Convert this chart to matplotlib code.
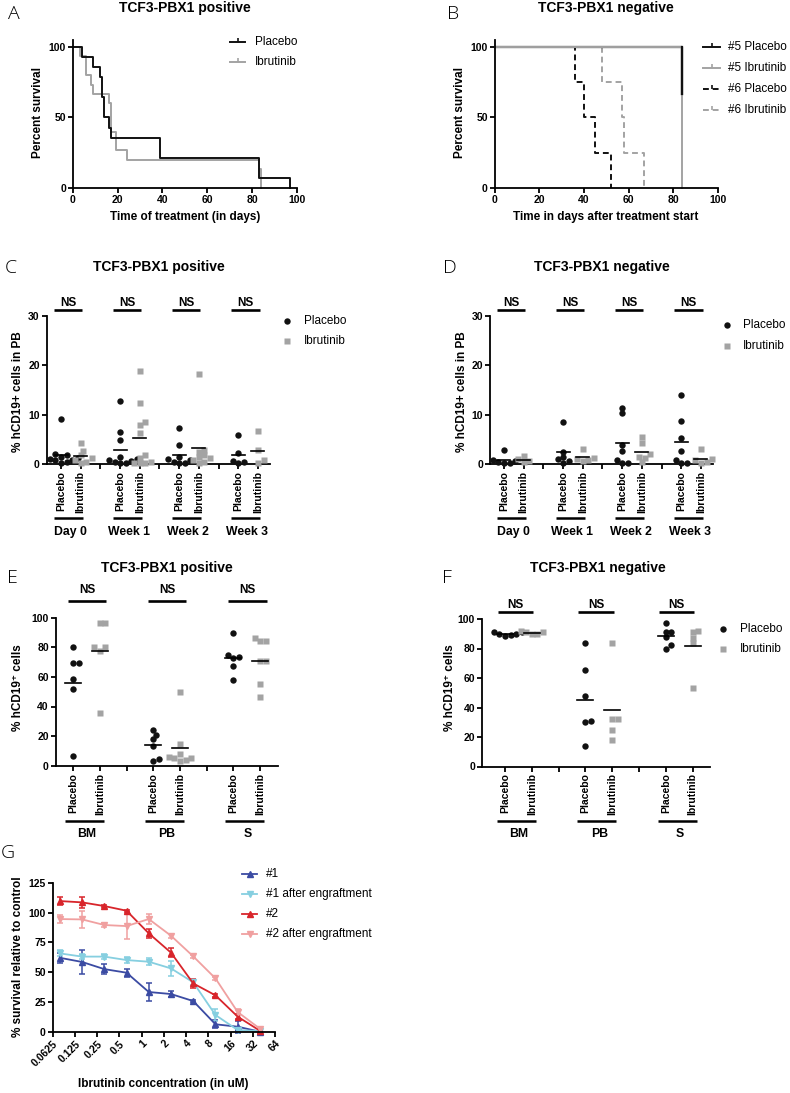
import numpy as np
import matplotlib
matplotlib.use('Agg')
import matplotlib.pyplot as plt
from matplotlib.lines import Line2D
from matplotlib.transforms import blended_transform_factory

plt.rcParams['font.family'] = ['Liberation Sans', 'DejaVu Sans']
plt.rcParams['font.weight'] = 'bold'

#%%============================================================================
# Data
#==============================================================================
# A - survival, TCF3-PBX1 positive
a_plac_t = [0, 4, 9, 12, 13, 14, 16, 17, 39, 83, 97]
a_plac_s = [100, 92.9, 85.7, 78.6, 64.3, 50.0, 42.9, 35.7, 21.4, 7.1, 0]
a_ibr_t = [0, 3, 6, 8, 9, 16, 17, 19, 24, 83, 84]
a_ibr_s = [100, 93.3, 80.0, 73.3, 66.7, 60.0, 40.0, 26.7, 20.0, 13.3, 0]

# B - survival, TCF3-PBX1 negative
b5_plac_t = [0, 84]
b5_plac_s = [100, 66.7]
b5_ibr_t = [0, 84]
b5_ibr_s = [100, 0]
b6_plac_t = [0, 36, 40, 45, 52]
b6_plac_s = [100, 75, 50, 25, 0]
b6_ibr_t = [0, 48, 57, 58, 67]
b6_ibr_s = [100, 75, 50, 25, 0]

# C / D - % hCD19+ cells in PB
pb_groups = ['Day 0', 'Week 1', 'Week 2', 'Week 3']
c_plac = [[9.2, 2.0, 1.8, 1.5, 1.2, 1.0, 0.9, 0.8, 0.5, 0.3],
          [12.7, 6.6, 5.0, 1.5, 1.0, 0.8, 0.6, 0.5, 0.3, 0.2],
          [7.3, 3.8, 1.5, 1.0, 0.8, 0.5, 0.3, 0.2],
          [5.9, 2.2, 0.6, 0.5, 0.3]]
c_ibr = [[4.2, 2.7, 1.8, 1.2, 0.8, 0.5, 0.3],
         [18.9, 12.4, 8.6, 7.9, 6.4, 1.8, 1.2, 0.5, 0.3, 0.2, 0.2],
         [18.3, 2.8, 2.5, 1.8, 1.5, 1.2, 0.8, 0.5, 0.3],
         [6.8, 2.8, 0.8, 0.3]]
d_plac = [[2.8, 0.8, 0.6, 0.5, 0.3, 0.3],
          [8.6, 2.5, 1.4, 1.0, 0.6, 0.3],
          [11.3, 10.3, 3.9, 2.6, 0.8, 0.3, 0.3],
          [13.9, 8.8, 5.3, 2.6, 0.8, 0.3, 0.2]]
d_ibr = [[1.7, 1.0, 0.6, 0.5],
         [3.1, 1.3, 1.0, 0.9, 0.6],
         [5.5, 4.4, 2.0, 1.5, 1.3, 0.4],
         [3.1, 1.0, 0.8, 0.5, 0.3]]

# E / F - % hCD19+ cells per organ
organ_groups = ['BM', 'PB', 'S']
e_plac = [[80.4, 69.7, 69.7, 58.4, 52.1, 6.8],
          [24.3, 20.9, 18.2, 13.6, 4.5, 3.0],
          [89.9, 74.5, 73.5, 72.5, 67.4, 57.8]]
e_ibr = [[96.6, 96.6, 80.0, 80.0, 77.8, 35.3],
         [49.7, 14.5, 8.0, 6.0, 5.5, 5.0, 4.0, 3.0],
         [86.0, 84.5, 84.0, 70.5, 70.5, 55.0, 46.7]]
f_plac = [[91.5, 91.0, 90.0, 89.5, 89.0, 88.5],
          [84.0, 65.5, 47.5, 31.1, 30.0, 14.2],
          [97.5, 91.4, 91.0, 87.7, 82.3, 80.0]]
f_ibr = [[92.0, 91.5, 91.0, 90.0, 89.5],
         [84.0, 32.5, 32.0, 24.5, 18.0],
         [91.6, 91.5, 87.3, 84.0, 53.4]]

# G - dose response
g_conc = [0.078125, 0.15625, 0.3125, 0.625, 1.25, 2.5, 5, 10, 20, 40]
g_ticks = [0.0625, 0.125, 0.25, 0.5, 1, 2, 4, 8, 16, 32, 64]
g_ticklabels = ['0.0625', '0.125', '0.25', '0.5', '1', '2', '4', '8', '16', '32', '64']
g_names = ['#1', '#1 after engraftment', '#2', '#2 after engraftment']
g1 = [62.0, 58.5, 52.5, 49.5, 33.3, 31.6, 25.7, 6.2, 4.2, 0.0]
g1_err = [4.2, 9.8, 4.2, 3.5, 7.7, 2.5, 1.0, 3.5, 5.0, 1.5]
g1e = [65.7, 63.0, 63.0, 60.1, 58.7, 53.1, 41.4, 14.0, 1.4, 0.5]
g1e_err = [2.5, 2.0, 2.0, 2.5, 3.0, 6.5, 2.0, 5.0, 1.0, 1.0]
g2 = [109.6, 108.5, 105.4, 101.5, 82.5, 66.3, 40.5, 30.5, 12.6, 0.8]
g2_err = [3.0, 4.5, 1.0, 1.0, 4.0, 3.5, 4.0, 1.0, 2.0, 1.0]
g2e = [94.5, 94.2, 89.5, 88.6, 94.5, 80.5, 63.2, 44.7, 16.5, 2.5]
g2e_err = [3.0, 7.4, 1.5, 10.5, 4.5, 1.5, 1.0, 1.5, 2.5, 1.5]

#%%============================================================================
# Helpers
#==============================================================================
W, H = 790, 1093
fig = plt.figure(figsize=(W / 100, H / 100), dpi=100)
BLACK = '#111111'
GRAY = '#a3a3a3'
TICK_FS = 7.5
LAB_FS = 8.5
TITLE_FS = 10
LEG_FS = 8.5


def fx(x):
    return x / W


def fy(y):
    return 1 - y / H


def add_ax(x0, x1, ytop, ybot):
    ax = fig.add_axes([fx(x0), fy(ybot), (x1 - x0) / W, (ybot - ytop) / H])
    for s in ['top', 'right']:
        ax.spines[s].set_visible(False)
    for s in ['left', 'bottom']:
        ax.spines[s].set_linewidth(1.3)
    ax.tick_params(width=1.3, length=3.5, labelsize=TICK_FS, pad=1.5)
    ax.patch.set_alpha(0)
    return ax


def ftext(x, y, s, **kw):
    kw.setdefault('ha', 'center')
    kw.setdefault('va', 'center')
    return fig.text(fx(x), fy(y), s, **kw)


def panel_letter(x, y, s):
    ftext(x, y, s, fontsize=14, fontweight='light', family=['Open Sans', 'DejaVu Sans'])


def swarm_x(vals, center, py, px, diam=6.2):
    """Beeswarm: shift each point sideways until it barely overlaps the others."""
    placed = []
    out = [center] * len(vals)
    step = diam * 0.45
    for i in sorted(range(len(vals)), key=lambda j: vals[j]):
        yy = vals[i] * py
        off = 0.0
        for k in range(40):
            off = ((k + 1) // 2) * step * (1 if k % 2 else -1)
            if all((off - a) ** 2 + (yy - b) ** 2 >= (diam * 0.78) ** 2 for a, b in placed):
                break
        placed.append((off, yy))
        out[i] = center + off / px
    return out


def scatter_panel(ax, groups, plac, ibr, py, px, half, ns, under):
    trans = blended_transform_factory(ax.transData, fig.transFigure)
    n = len(groups)
    for g in range(n):
        for j, (vals, col, mk, ms) in enumerate([(plac[g], BLACK, 'o', 4.6),
                                                  (ibr[g], GRAY, 's', 4.2)]):
            pos = 3 * g + j
            xs = swarm_x(vals, pos, py, px)
            ax.plot(xs, vals, ls='none', marker=mk, ms=ms, color=col, mec='none',
                    clip_on=False, zorder=3)
            m = np.mean(vals)
            ax.plot([pos - half, pos + half], [m, m], color='black', lw=1.2,
                    clip_on=False, zorder=4)
        # NS bar
        ytxt, ybar, a, b = ns
        ax.plot([3 * g + a, 3 * g + b], [fy(ybar)] * 2, transform=trans, color='black',
                lw=1.9, clip_on=False, solid_capstyle='butt')
        ax.text(3 * g + (a + b) / 2, fy(ytxt), 'NS', transform=trans, ha='center',
                va='center', fontsize=8.5)
        # group underline + label
        yline, ylab, a, b, c = under
        ax.plot([3 * g + a, 3 * g + b], [fy(yline)] * 2, transform=trans, color='black',
                lw=1.8, clip_on=False, solid_capstyle='butt')
        ax.text(3 * g + c, fy(ylab), groups[g], transform=trans, ha='center',
                va='center', fontsize=8.8)
    ticks = list(range(3 * n - 1))
    ax.set_xticks(ticks)
    ax.set_xticklabels([['Placebo', 'Ibrutinib', ''][t % 3] for t in ticks],
                       rotation=90, fontsize=7.5)


def dot_legend(x, xt, ys):
    for y, col, mk, ms, lab in [(ys[0], BLACK, 'o', 4.6, 'Placebo'),
                                (ys[1], GRAY, 's', 4.2, 'Ibrutinib')]:
        fig.add_artist(Line2D([fx(x)], [fy(y)], marker=mk, ms=ms, color=col, mec='none', ls='none'))
        ftext(xt, y, lab, ha='left', fontsize=LEG_FS, fontweight='normal')


def km_legend(x1, x2, xt, y, lab, col, ls='-'):
    fig.add_artist(Line2D([fx(x1), fx(x2)], [fy(y)] * 2, color=col, lw=1.4, ls=ls))
    fig.add_artist(Line2D([fx((x1 + x2) / 2)], [fy(y)], color=col, marker=2, ms=3,
                          mew=1.2, ls='none'))
    ftext(xt, y, lab, ha='left', fontsize=LEG_FS, fontweight='normal')

#%%============================================================================
# A
#==============================================================================
ax = add_ax(73, 296.7, 188 - 105 * 1.41, 188)
ax.step(a_ibr_t, a_ibr_s, where='post', color=GRAY, lw=1.4, clip_on=False)
ax.step(a_plac_t, a_plac_s, where='post', color=BLACK, lw=1.4, clip_on=False)
ax.set_xlim(0, 100)
ax.set_ylim(0, 105)
ax.set_xticks(range(0, 101, 20))
ax.set_yticks([0, 50, 100])
ftext(185, 8, 'TCF3-PBX1 positive', fontsize=TITLE_FS)
ftext(38, 113, 'Percent survival', rotation=90, fontsize=LAB_FS)
ftext(185, 217, 'Time of treatment (in days)', fontsize=LAB_FS)
panel_letter(14, 14, 'A')
km_legend(230, 245, 255, 42, 'Placebo', BLACK)
km_legend(230, 245, 255, 62, 'Ibrutinib', GRAY)

#%%============================================================================
# B
#==============================================================================
ax = add_ax(494.7, 717.7, 188 - 105 * 1.41, 188)
dash = (0, (3, 2))
ax.step(b6_plac_t, b6_plac_s, where='post', color=BLACK, lw=1.4, ls=dash, clip_on=False)
ax.step(b6_ibr_t, b6_ibr_s, where='post', color=GRAY, lw=1.4, ls=dash, clip_on=False)
ax.step(b5_plac_t, b5_plac_s, where='post', color=BLACK, lw=1.6, clip_on=False)
ax.step(b5_ibr_t, b5_ibr_s, where='post', color=GRAY, lw=1.4, clip_on=False)
ax.plot(b5_plac_t[-1:] * 2, b5_plac_s[-2:], color=BLACK, lw=1.6, clip_on=False)
ax.set_xlim(0, 100)
ax.set_ylim(0, 105)
ax.set_xticks(range(0, 101, 20))
ax.set_yticks([0, 50, 100])
ftext(606, 8, 'TCF3-PBX1 negative', fontsize=TITLE_FS)
ftext(460, 113, 'Percent survival', rotation=90, fontsize=LAB_FS)
ftext(606, 217, 'Time in days after treatment start', fontsize=LAB_FS)
panel_letter(453, 14, 'B')
km_legend(703, 720, 728, 47, '#5 Placebo', BLACK)
km_legend(703, 720, 728, 68, '#5 Ibrutinib', GRAY)
km_legend(703, 720, 728, 89, '#6 Placebo', BLACK, dash)
km_legend(703, 720, 728, 110, '#6 Ibrutinib', GRAY, dash)

#%%============================================================================
# C and D
#==============================================================================
for x0, x1, xl, plac, ibr, title, tx, lx, ylx, leg in [
        (46.7, 270, (-0.726, 10.61), c_plac, c_ibr, 'TCF3-PBX1 positive', 159, 11, 18,
         (287, 304, (321, 341))),
        (490, 713, (-0.71, 10.61), d_plac, d_ibr, 'TCF3-PBX1 negative', 602, 450, 462,
         (727, 743, (325, 346)))]:
    ax = add_ax(x0, x1, 315.7, 464.3)
    ax.set_xlim(*xl)
    ax.set_ylim(0, 30)
    ax.set_yticks([0, 10, 20, 30])
    scatter_panel(ax, pb_groups, plac, ibr, 148.6 / 30, 19.7, 0.33,
                  (303, 310, -0.36, 1.08), (518, 532, -0.36, 1.12, 0.46))
    ftext(tx, 267, title, fontsize=TITLE_FS)
    panel_letter(lx, 268, 'C' if plac is c_plac else 'D')
    ftext(ylx, 392, '% hCD19+ cells in PB', rotation=90, fontsize=LAB_FS)
    dot_legend(*leg)

#%%============================================================================
# E and F
#==============================================================================
for x0, x1, xl, yt, yb, plac, ibr, title, tx, lx, ylx, ns, leg in [
        (55.7, 278, (-0.65, 7.67), 617.7, 765.7, e_plac, e_ibr, 'TCF3-PBX1 positive',
         167, 12, 18, (590, 600.7, -0.2, 1.24), None),
        (482, 710, (-0.86, 7.65), 619, 766.5, f_plac, f_ibr, 'TCF3-PBX1 negative',
         598, 447, 450, (605, 612, -0.26, 1.05), (723, 740, (629, 649)))]:
    ax = add_ax(x0, x1, yt, yb)
    ax.set_xlim(*xl)
    ax.set_ylim(0, 100)
    ax.set_yticks(range(0, 101, 20))
    scatter_panel(ax, organ_groups, plac, ibr, (yb - yt) / 100, (x1 - x0) / (xl[1] - xl[0]),
                  0.3, ns, (821, 834, -0.3, 1.16, 0.52))
    ftext(tx, 568, title, fontsize=TITLE_FS)
    panel_letter(lx, 578, 'E' if plac is e_plac else 'F')
    ftext(ylx, 688, '% hCD19\u207a cells', rotation=90, fontsize=LAB_FS)
    if leg:
        dot_legend(*leg)

#%%============================================================================
# G
#==============================================================================
ax = add_ax(52.7, 275, 882.7, 1031.7)
ax.set_xscale('log', base=2)
series = [(g1, g1_err, '#3b4ba3', '^'), (g1e, g1e_err, '#86cfe0', 'v'),
          (g2, g2_err, '#d8252b', '^'), (g2e, g2e_err, '#f0a0a0', 'v')]
for (vals, err, col, mk), name in zip(series, g_names):
    ax.errorbar(g_conc, vals, yerr=err, color=col, marker=mk, ms=4.5, lw=1.3,
                capsize=2.5, elinewidth=1.1, capthick=1.1, clip_on=False)
ax.set_xlim(0.0625, 64)
ax.set_ylim(0, 125)
ax.set_yticks(range(0, 126, 25))
ax.set_xticks(g_ticks)
ax.set_xticklabels(g_ticklabels, rotation=45, ha='right', rotation_mode='anchor', fontsize=TICK_FS)
ax.xaxis.set_minor_locator(matplotlib.ticker.NullLocator())
ftext(18, 957, '% survival relative to control', rotation=90, fontsize=LAB_FS)
ftext(163, 1084, 'Ibrutinib concentration (in uM)', fontsize=LAB_FS)
panel_letter(8, 853, 'G')
for (vals, err, col, mk), name, y in zip(series, g_names, [874, 894, 914, 934]):
    fig.add_artist(Line2D([fx(242), fx(249.5), fx(257)], [fy(y)] * 3, color=col, lw=1.3,
                          marker=mk, ms=4.5, markevery=[1]))
    ftext(266, y, name, ha='left', fontsize=8.5, fontweight='normal')

fig.savefig('out.png', dpi=100)
